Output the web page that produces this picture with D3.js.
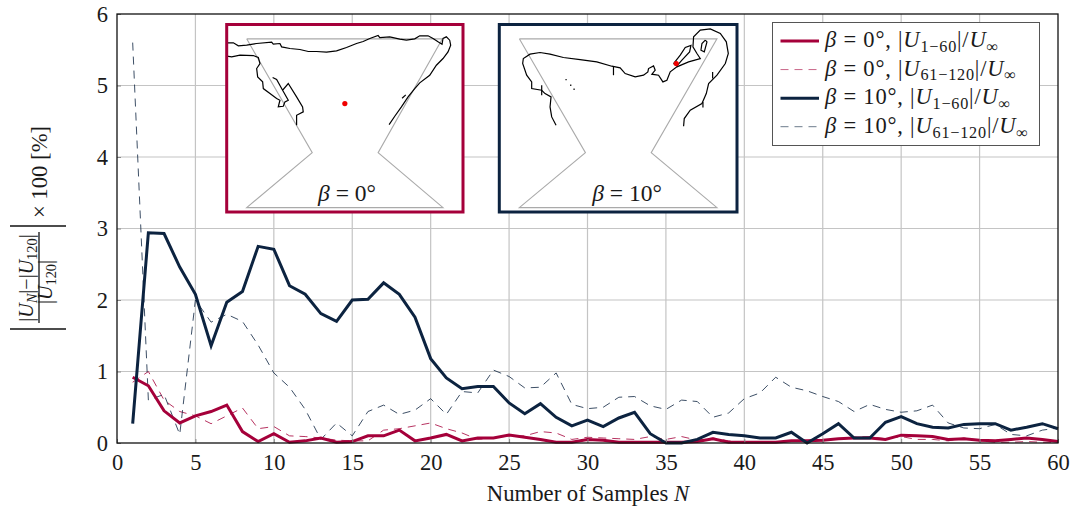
<!DOCTYPE html>
<html>
<head>
<meta charset="utf-8">
<script src="https://cdn.jsdelivr.net/npm/d3@7"></script>
<style>
  body { margin: 0; background: #fff; }
  svg { display: block; }
  text { font-family: "Liberation Serif", serif; fill: #1a1a1a; }
  .tick text { font-size: 22.5px; }
  .grid line { stroke: #c4c4c4; stroke-width: 1.2; }
</style>
</head>
<body>
<svg width="1074" height="510"></svg>
<script>
const samples = d3.range(1, 61);

const beta0First = [0.92, 0.80, 0.45, 0.28, 0.38, 0.44, 0.53, 0.16, 0.02, 0.13,
  0.01, 0.03, 0.07, 0.01, 0.02, 0.10, 0.10, 0.18, 0.03, 0.07,
  0.12, 0.03, 0.07, 0.07, 0.11, 0.08, 0.05, 0.01, 0.01, 0.05,
  0.04, 0.01, 0.01, 0.01, 0.01, 0.01, 0.02, 0.06, 0.01, 0.01,
  0.01, 0.01, 0.03, 0.03, 0.04, 0.06, 0.07, 0.07, 0.05, 0.11,
  0.10, 0.09, 0.05, 0.06, 0.04, 0.03, 0.05, 0.07, 0.05, 0.02];

const beta0Second = [0.85, 1.00, 0.60, 0.44, 0.38, 0.27, 0.38, 0.49, 0.20, 0.23,
  0.10, 0.09, 0.07, 0.04, 0.03, 0.03, 0.18, 0.20, 0.24, 0.28,
  0.20, 0.14, 0.05, 0.07, 0.10, 0.10, 0.16, 0.14, 0.05, 0.08,
  0.07, 0.06, 0.05, 0.09, 0.05, 0.09, 0.04, 0.07, 0.03, 0.01,
  0.01, 0.01, 0.02, 0.03, 0.03, 0.06, 0.08, 0.09, 0.06, 0.09,
  0.05, 0.05, 0.03, 0.07, 0.03, 0.01, 0.01, 0.02, 0.01, 0.01];

const beta10First = [0.27, 2.94, 2.93, 2.46, 2.08, 1.36, 1.97, 2.12, 2.75, 2.71,
  2.20, 2.08, 1.81, 1.70, 2.00, 2.01, 2.24, 2.08, 1.76, 1.18,
  0.91, 0.76, 0.79, 0.79, 0.56, 0.41, 0.55, 0.36, 0.24, 0.32,
  0.23, 0.35, 0.43, 0.13, 0.00, 0.00, 0.05, 0.15, 0.12, 0.10,
  0.07, 0.07, 0.15, 0.00, 0.13, 0.27, 0.07, 0.07, 0.29, 0.37,
  0.27, 0.22, 0.21, 0.26, 0.27, 0.27, 0.18, 0.22, 0.27, 0.20];

const beta10Second = [5.60, 0.60, 0.68, 0.12, 2.00, 1.69, 1.80, 1.70, 1.37, 0.98,
  0.78, 0.47, 0.05, 0.28, 0.10, 0.44, 0.53, 0.40, 0.46, 0.62,
  0.40, 0.72, 0.70, 1.02, 0.93, 0.77, 0.78, 0.98, 0.54, 0.48,
  0.50, 0.64, 0.65, 0.52, 0.47, 0.60, 0.58, 0.36, 0.42, 0.62,
  0.70, 0.92, 0.78, 0.73, 0.65, 0.58, 0.44, 0.54, 0.47, 0.43,
  0.45, 0.53, 0.28, 0.21, 0.20, 0.26, 0.12, 0.10, 0.18, 0.21];

const xTicks = [0, 5, 10, 15, 20, 25, 30, 35, 40, 45, 50, 55, 60];
const yTicks = [0, 1, 2, 3, 4, 5, 6];

const legendBeta = ["0°", "0°", "10°", "10°"];
const legendRange = ["1−60", "61−120", "1−60", "61−120"];

// inset outlines in a 3x crop of each inset
const funnelLeft = [[440,116],[1028,116],[835,457],[1030,622],[440,622],[637,457],[440,116]];
const funnelRight = [[118,116],[710,116],[513,457],[710,622],[118,622],[316,457],[118,116]];

const coastLeft = [
  [[380,128],[400,128],[415,137],[440,135],[470,130],[515,126],[520,132],[540,130],[545,140],[570,145],
   [600,148],[625,154],[650,154],[680,156],[710,152],[740,142],[770,130],[790,124],[810,115],[835,106],
   [840,112],[870,110],[900,117],[920,120],[945,116],[960,107],[985,107],[1000,115],[1015,125],[1027,132],
   [1030,115],[1040,110],[1050,120],[1053,135],[1045,155],[1030,175],[1010,195],[990,225],[960,248],
   [945,265],[925,290],[905,320],[885,348],[868,373]],
  [[907,294],[918,284]],
  [[380,168],[395,170],[420,165],[460,166],[475,172],[480,190],[470,205],[473,230],[488,245],[490,265],
   [510,280],[530,295],[540,300],[535,320],[550,318],[555,305],[565,300],[548,270],[530,238],[518,232],
   [530,238],[548,270],[565,250],[590,290],[608,320],[610,335],[590,345],[590,375]]
];

const coastRight = [
  [[228,375],[215,350],[210,320],[213,290],[195,280],[185,270],[155,265],[155,245],[140,225],[128,190],
   [130,175],[150,162],[180,157],[210,162],[250,172],[300,178],[350,185],[395,198],[420,203],[435,220],
   [465,230],[490,225],[503,215],[505,205],[520,197],[525,210],[515,222],[535,225],[548,245],[560,240],
   [570,215],[590,200],[625,185],[660,175],[650,160],[638,140],[640,110],[660,90],[690,86],[720,100],
   [738,125],[744,160],[735,190],[710,225],[685,250],[678,280],[665,310],[630,330],[612,355],[610,378]],
  [[580,190],[600,165],[615,142],[632,136],[628,155],[605,180],[590,197],[580,190]],
  [[675,120],[680,125],[672,155],[662,150],[665,130],[675,120]],
  [[400,198],[400,225]],
  [[185,255],[185,285]],
  [[697,215],[697,235]],
  [[668,305],[668,322]],
  [[258,236],[258,240]],
  [[272,253],[272,257]],
  [[282,265],[282,269]]
];

const pointLeft = [735, 310];
const pointRight = [588, 190];

const crimson = "#a5003a";
const navy = "#0c2340";

const svg = d3.select("svg");
const margin = { top: 14, right: 16, bottom: 67, left: 117 };
const innerWidth = +svg.attr("width") - margin.left - margin.right;
const innerHeight = +svg.attr("height") - margin.top - margin.bottom;

const g = svg.append("g")
  .attr("transform", `translate(${margin.left},${margin.top})`);

const x = d3.scaleLinear().domain([0, 60]).range([0, innerWidth]);
const y = d3.scaleLinear().domain([0, 6]).range([innerHeight, 0]);

// grid
g.append("g").attr("class", "grid")
  .selectAll("line")
  .data(xTicks.slice(1, -1))
  .enter()
  .append("line")
  .attr("x1", d => x(d)).attr("x2", d => x(d))
  .attr("y1", 0).attr("y2", innerHeight);

g.append("g").attr("class", "grid")
  .selectAll("line")
  .data(yTicks.slice(1, -1))
  .enter()
  .append("line")
  .attr("x1", 0).attr("x2", innerWidth)
  .attr("y1", d => y(d)).attr("y2", d => y(d));

// math text helper, parts are [string, "i" | "sub" | "subi" | ""]
function addMath(sel, parts) {
  let shifted = false;
  parts.forEach(([str, kind]) => {
    const t = sel.append("tspan").text(str);
    if (kind === "i") t.style("font-style", "italic");
    if (kind === "sub" || kind === "subi") {
      t.style("font-size", "0.72em");
      if (kind === "subi") t.style("font-style", "italic");
      if (!shifted) t.attr("dy", "0.3em");
      shifted = true;
    } else if (shifted) {
      t.attr("dy", "-0.216em");
      shifted = false;
    }
  });
}

// series
const line = d3.line()
  .x((d, i) => x(samples[i]))
  .y(d => y(d));

const series = [
  { values: beta0Second, color: crimson, width: 1, dash: "8,6", opacity: 0.8 },
  { values: beta10Second, color: navy, width: 1, dash: "8,6", opacity: 0.8 },
  { values: beta0First, color: crimson, width: 3, dash: null, opacity: 1 },
  { values: beta10First, color: navy, width: 3, dash: null, opacity: 1 }
];

g.selectAll(".series")
  .data(series)
  .enter()
  .append("path")
  .attr("class", "series")
  .attr("fill", "none")
  .attr("stroke", d => d.color)
  .attr("stroke-width", d => d.width)
  .attr("stroke-dasharray", d => d.dash)
  .attr("stroke-opacity", d => d.opacity)
  .attr("stroke-linejoin", "miter")
  .attr("d", d => line(d.values));

// axes
const xAxis = g.append("g")
  .attr("transform", `translate(0,${innerHeight})`)
  .call(d3.axisBottom(x).tickValues(xTicks).tickSize(-4).tickPadding(11).tickFormat(d3.format("d")));
const yAxis = g.append("g")
  .call(d3.axisLeft(y).tickValues(yTicks).tickSize(-4).tickPadding(9).tickFormat(d3.format("d")));

[xAxis, yAxis].forEach(a => {
  a.select(".domain").remove();
  a.selectAll(".tick line").attr("stroke", "#888");
});

g.append("rect")
  .attr("width", innerWidth)
  .attr("height", innerHeight)
  .attr("fill", "none")
  .attr("stroke", "#111")
  .attr("stroke-width", 1.3);

// insets
const insets = [
  { left: 226.7, right: 463, color: crimson, domainX: [380, 1090], funnel: funnelLeft, coast: coastLeft,
    point: pointLeft, label: "0°", labelX: 347 },
  { left: 499.3, right: 737, color: navy, domainX: [58, 770], funnel: funnelRight, coast: coastRight,
    point: pointRight, label: "10°", labelX: 627 }
];

insets.forEach(inset => {
  const top = 24.5, bottom = 212;
  const ix = d3.scaleLinear().domain(inset.domainX).range([inset.left, inset.right]);
  const iy = d3.scaleLinear().domain([73, 635]).range([top, bottom]);
  const path = d3.line().x(d => ix(d[0])).y(d => iy(d[1]));
  const box = svg.append("g");

  box.append("rect")
    .attr("x", inset.left).attr("y", top)
    .attr("width", inset.right - inset.left).attr("height", bottom - top)
    .attr("fill", "#fff");

  box.append("path")
    .attr("d", path(inset.funnel))
    .attr("fill", "none")
    .attr("stroke", "#aaa")
    .attr("stroke-width", 1.1);

  box.selectAll(".coast")
    .data(inset.coast)
    .enter()
    .append("path")
    .attr("class", "coast")
    .attr("d", path)
    .attr("fill", "none")
    .attr("stroke", "#000")
    .attr("stroke-width", 1.2);

  box.append("circle")
    .attr("cx", ix(inset.point[0]))
    .attr("cy", iy(inset.point[1]))
    .attr("r", 2.6)
    .attr("fill", "#f00000");

  box.append("rect")
    .attr("x", inset.left).attr("y", top)
    .attr("width", inset.right - inset.left).attr("height", bottom - top)
    .attr("fill", "none")
    .attr("stroke", inset.color)
    .attr("stroke-width", 3);

  const label = box.append("text")
    .attr("x", inset.labelX).attr("y", 201)
    .attr("text-anchor", "middle")
    .style("font-size", "23.5px");
  addMath(label, [["β", "i"], [" = " + inset.label, ""]]);
});

// legend
const legend = svg.append("g");
legend.append("rect")
  .attr("x", 772.5).attr("y", 22.5)
  .attr("width", 267).attr("height", 123)
  .attr("fill", "#fff")
  .attr("stroke", "#555")
  .attr("stroke-width", 1);

const legendRows = d3.scaleLinear().domain([0, 3]).range([41, 126.7]);
const legendSeries = [series[2], series[0], series[3], series[1]];

legendBeta.forEach((b, i) => {
  const s = legendSeries[i];
  const rowY = legendRows(i);
  legend.append("line")
    .attr("x1", 780.5).attr("x2", 819)
    .attr("y1", rowY).attr("y2", rowY)
    .attr("stroke", s.color)
    .attr("stroke-width", s.width)
    .attr("stroke-opacity", s.dash ? 0.6 : 1)
    .attr("stroke-dasharray", s.dash);
  const t = legend.append("text")
    .attr("x", 825).attr("y", rowY + 6)
    .style("font-size", "22.5px")
    .style("letter-spacing", "0.8px");
  addMath(t, [["β", "i"], [" = " + b + ", |", ""], ["U", "i"], [legendRange[i], "sub"],
    ["|/", ""], ["U", "i"], ["∞", "sub"]]);
});

// axis titles
const xTitle = svg.append("text")
  .attr("x", 588).attr("y", 501)
  .attr("text-anchor", "middle")
  .style("font-size", "22.7px");
addMath(xTitle, [["Number of Samples ", ""], ["N", "i"]]);

const yTitle = svg.append("g");
yTitle.selectAll("line")
  .data([226, 329])
  .enter()
  .append("line")
  .attr("x1", 10).attr("x2", 66)
  .attr("y1", d => d).attr("y2", d => d)
  .attr("stroke", "#111")
  .attr("stroke-width", 1.3);
yTitle.append("line")
  .attr("x1", 39).attr("x2", 39)
  .attr("y1", 232).attr("y2", 323)
  .attr("stroke", "#111")
  .attr("stroke-width", 1.3);

const numerator = yTitle.append("text")
  .attr("transform", "translate(33,278) rotate(-90)")
  .attr("text-anchor", "middle")
  .style("font-size", "20px");
addMath(numerator, [["|", ""], ["U", "i"], ["N", "subi"], ["|−|", ""], ["U", "i"], ["120", "sub"], ["|", ""]]);

const denominator = yTitle.append("text")
  .attr("transform", "translate(52,282) rotate(-90)")
  .attr("text-anchor", "middle")
  .style("font-size", "20px");
addMath(denominator, [["|", ""], ["U", "i"], ["120", "sub"], ["|", ""]]);

yTitle.append("text")
  .attr("transform", "translate(47,172) rotate(-90)")
  .attr("text-anchor", "middle")
  .style("font-size", "22.7px")
  .text("× 100 [%]");
</script>
</body>
</html>
